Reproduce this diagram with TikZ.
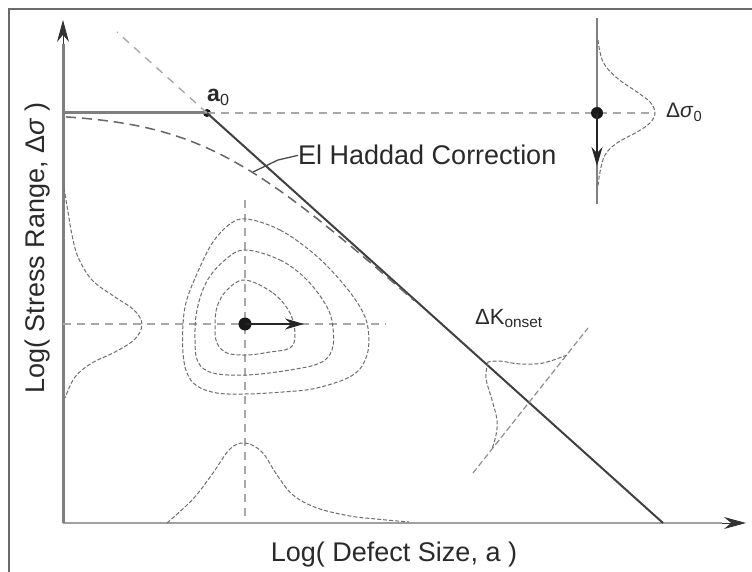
\documentclass[tikz,border=0pt]{standalone}
\usepackage{fontspec}
\setmainfont{Liberation Sans}
\usetikzlibrary{arrows.meta}
\definecolor{axisgray}{HTML}{808080}
\definecolor{xaxisgray}{HTML}{A0A0A0}
\definecolor{dashgray}{HTML}{A8A8A8}
\definecolor{curvegray}{HTML}{6E6E6E}
\definecolor{txt}{HTML}{2A2A2A}
\definecolor{framegray}{HTML}{6A6A6A}
\begin{document}
\begin{tikzpicture}[x=1pt,y=-1pt,
  lbl/.style={font=\fontsize{27}{30}\selectfont, text=txt, inner sep=0pt},
  smalllbl/.style={font=\fontsize{22}{26}\selectfont, text=txt, inner sep=0pt},
  gdash/.style={draw=dashgray, line width=1.6pt, dash pattern=on 8pt off 6pt},
  hdash/.style={draw=black!60, line width=1.5pt, dash pattern=on 10pt off 6pt},
  dcurve/.style={draw=curvegray, line width=1pt, dash pattern=on 4pt off 2pt},
  tipline/.style={-{Stealth[length=19pt,width=11pt]}, line width=2pt, draw=black!85},
  axtip/.style={-{Stealth[length=22pt,width=12pt]}, line width=1pt, draw=black!80},
  dotc/.style={circle, fill=black!90, inner sep=0pt, minimum size=#1}]
\useasboundingbox (0,0) rectangle (752,572);
\clip (0,0) rectangle (752,572);
\fill[white] (0,0) rectangle (752,572);
\draw[framegray, line width=1.5pt] (9,600) -- (9,9) -- (800,9);

% key points
\coordinate (O) at (63,523);
\coordinate (Ytop) at (63,20);
\coordinate (Yarr) at (63,44);
\coordinate (Xend) at (746,523);
\coordinate (Xarr) at (722,523);
\coordinate (Yat) at (63,113);
\coordinate (Dtop) at (117,32);
\coordinate (Kend) at (663,523);
\coordinate (Rtop) at (597,18);
\coordinate (Rbot) at (597,204);
\coordinate (Rpk) at (653,113);
\coordinate (Rarr) at (597,166);
\coordinate (Carr) at (304,324);
\coordinate (Vtop) at (245,200);
\coordinate (Vbot) at (245,523);
\coordinate (Hleft) at (63,324);
\coordinate (Hright) at (386,324);
\coordinate (Bs) at (473,473);
\coordinate (Be) at (588,328);
\coordinate (L1) at (253,172);
\coordinate (L2) at (278,160);

% axes
\draw[xaxisgray, line width=2pt] (O) -- (Xarr);
\draw[axtip] (Xarr) -- (Xend);
\draw[axisgray, line width=3pt] (O) -- (Yarr);
\draw[axtip] (Yarr) -- (Ytop);

% dashed guides
\draw[gdash] (Hleft) -- (Hright);
\draw[gdash] (Vtop) -- (Vbot);

% a0 construction
\node[dotc=8pt] (a0) at (207,113) {};
\draw[axisgray, line width=3pt] (Yat) -- (a0.center);
\draw[gdash] (a0.center) -- (Rpk);
\draw[dashgray, line width=1.4pt, dash pattern=on 8pt off 7pt] (a0.center) -- (Dtop);
\draw[black!75, line width=2pt] (a0.center) -- (Kend);
\node[font=\fontsize{23}{26}\selectfont, text=txt, inner sep=0pt, anchor=base west] (a0lbl) at (207,102) {\textbf{a}\textsubscript{0}};

% El Haddad curve
\draw[hdash] plot[domain=66:414, samples=80] (\x, {113 + 50.4*ln(1+exp((\x-207)/56))});
\node[lbl, anchor=base west] (eh) at (298,165) {El Haddad Correction};
\draw[black!70, line width=1.3pt] (L1) -- (L2) -- (eh.west);

% right distribution
\draw[axisgray, line width=2pt] (Rtop) -- (Rbot);
\draw[dcurve] plot[smooth, tension=0.6] coordinates {(598,40) (603,62) (617,78) (637,92) (650,102) (655,113) (650,123) (637,132) (617,143) (605,155) (600,172) (598,186)};
\node[dotc=12pt] (rdot) at (597,113) {};
\draw[tipline] (rdot.center) -- (Rarr);
\node[font=\fontsize{21}{24}\selectfont, text=txt, inner sep=0pt, anchor=base west] (ds0) at (666,118) {Δ\textit{σ}\textsubscript{0}};

% left distribution
\draw[dcurve] plot[smooth, tension=0.6] coordinates {(64,188) (68,212) (72,235) (78,257) (92,280) (115,297) (134,310) (142,324) (135,339) (115,352) (92,363) (75,377) (65,398)};

% bottom distribution
\draw[dcurve] plot[smooth, tension=0.6] coordinates {(167,523) (193,499) (213,473) (230,449) (245,443) (262,452) (277,475) (293,495) (317,508) (350,516) (376,519) (409,522)};

% contours
\draw[dcurve] plot[smooth cycle, tension=0.6] coordinates {(245,280) (273,293) (290,313) (295,335) (290,348) (270,352) (247,355) (227,353) (217,343) (215,327) (217,307) (227,290)};
\draw[dcurve] plot[smooth cycle, tension=0.6] coordinates {(245,250) (280,260) (307,280) (327,307) (333,328) (332,350) (320,363) (290,370) (247,375) (213,373) (198,362) (195,339) (197,310) (207,281) (225,260)};
\draw[dcurve] plot[smooth cycle, tension=0.6] coordinates {(247,219) (280,230) (313,253) (340,280) (360,307) (368,328) (367,355) (353,375) (317,388) (283,392) (245,394) (217,393) (197,386) (187,373) (183,353) (183,324) (187,299) (200,267) (213,242) (230,224)};
\node[dotc=13pt] (cdot) at (245,324) {};
\draw[tipline] (cdot.center) -- (Carr);

% Delta K onset distribution
\draw[dashgray!85!black, line width=1.2pt, dash pattern=on 6pt off 3pt] (Bs) -- (Be);
\draw[dcurve] plot[smooth, tension=0.6] coordinates {(567,355) (543,363) (520,364) (500,361) (488,362)};
\draw[dcurve] plot[smooth, tension=0.6] coordinates {(488,362) (486,378) (492,400) (497,420) (496,435) (492,449)};
\node[smalllbl, anchor=base west] (dk) at (475,324) {ΔK\textsubscript{onset}};

% axis labels
\node[lbl, anchor=base] (xl) at (394,561) {Log( Defect Size, a )};
\node[lbl, anchor=base, rotate=90] (yl) at (44,248) {Log( Stress Range, Δ\textit{σ} )};
\end{tikzpicture}
\end{document}
